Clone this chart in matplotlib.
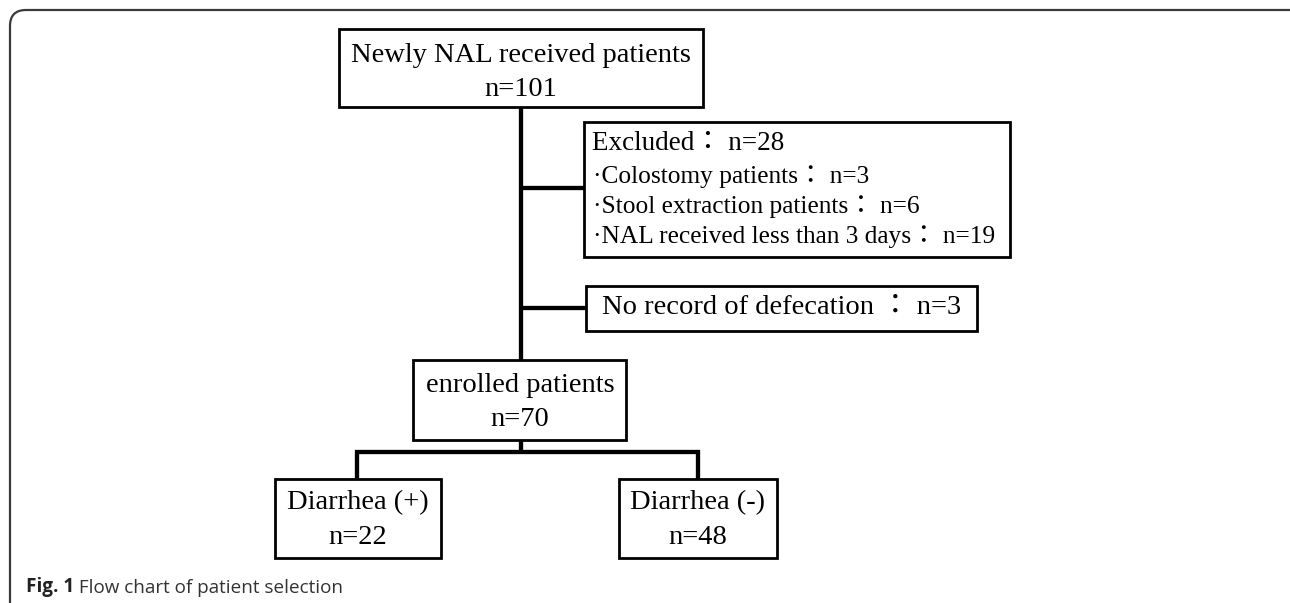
import matplotlib.pyplot as plt
from matplotlib.patches import Rectangle, FancyBboxPatch

# flow chart content
main_labels = ["Newly NAL received patients", "enrolled patients"]
main_counts = [101, 70]
excluded_total = 28
excluded_reasons = ["Colostomy patients", "Stool extraction patients", "NAL received less than 3 days"]
excluded_counts = [3, 6, 19]
norecord_label = "No record of defecation"
norecord_count = 3
group_labels = ["Diarrhea (+)", "Diarrhea (-)"]
group_counts = [22, 48]
caption_bold = "Fig. 1"
caption_text = " Flow chart of patient selection"

SERIF = ["Liberation Serif", "Noto Sans CJK JP", "DejaVu Serif"]
BIG = 20.5
SMALL = 18.3
BOX_LW = 2.0
LINK_LW = 3.1

fig = plt.figure(figsize=(12.9, 6.03), dpi=100)
ax = fig.add_axes([0, 0, 1, 1])
ax.set_xlim(0, 1290)
ax.set_ylim(603, 0)
ax.axis("off")

# outer rounded frame
frame = FancyBboxPatch((10, 10), 1300, 640, boxstyle="round,pad=0,rounding_size=16",
                       fill=False, ec="#3a3a3a", lw=1.6, clip_on=True)
ax.add_patch(frame)


def box(x0, y0, x1, y1):
    ax.add_patch(Rectangle((x0, y0), x1 - x0, y1 - y0, fill=False, ec="black", lw=BOX_LW,
                           joinstyle="miter"))


def link(xs, ys):
    ax.plot(xs, ys, color="black", lw=LINK_LW, solid_capstyle="butt", solid_joinstyle="miter")


# top box
box(339, 29, 703, 107)
ax.text(521, 55, main_labels[0], ha="center", va="center", fontsize=BIG, family=SERIF)
ax.text(521, 89, f"n={main_counts[0]}", ha="center", va="center", fontsize=BIG, family=SERIF)

# trunk
link([521, 521], [107, 360])

# excluded box
box(584, 122, 1010, 257)
link([521, 584], [188, 188])
ax.text(592, 144, f"Excluded\uff1a n={excluded_total}", ha="left", va="center",
        fontsize=BIG - 1, family=SERIF)
for i, (r, c) in enumerate(zip(excluded_reasons, excluded_counts)):
    ax.text(593, 177 + 30 * i, f"\u00b7{r}\uff1a n={c}", ha="left", va="center",
            fontsize=SMALL, family=SERIF)

# no record box
box(586, 286, 977, 331)
link([521, 586], [308, 308])
ax.text(602, 308, f"{norecord_label} \uff1a n={norecord_count}", ha="left", va="center",
        fontsize=BIG, family=SERIF)

# enrolled box
box(413, 360, 626, 440)
ax.text(520, 385, main_labels[1], ha="center", va="center", fontsize=BIG, family=SERIF)
ax.text(520, 420, f"n={main_counts[1]}", ha="center", va="center", fontsize=BIG, family=SERIF)

# split
link([521, 521], [440, 452])
link([357, 357, 698, 698], [479, 452, 452, 479])

group_boxes = [(275, 441), (619, 777)]
for (x0, x1), lab, n in zip(group_boxes, group_labels, group_counts):
    box(x0, 479, x1, 558)
    xc = (x0 + x1) / 2
    ax.text(xc, 503, lab, ha="center", va="center", fontsize=BIG, family=SERIF)
    ax.text(xc, 537, f"n={n}", ha="center", va="center", fontsize=BIG, family=SERIF)

# caption
t1 = ax.text(26, 587, caption_bold, ha="left", va="center", fontsize=13.6,
             family="Open Sans", weight="bold", color="#222222")
ax.annotate(caption_text, xy=(1, 0), xycoords=t1, ha="left", va="bottom",
            fontsize=13.6, family="Open Sans", color="#333333")

fig.savefig("out.png", dpi=100)
